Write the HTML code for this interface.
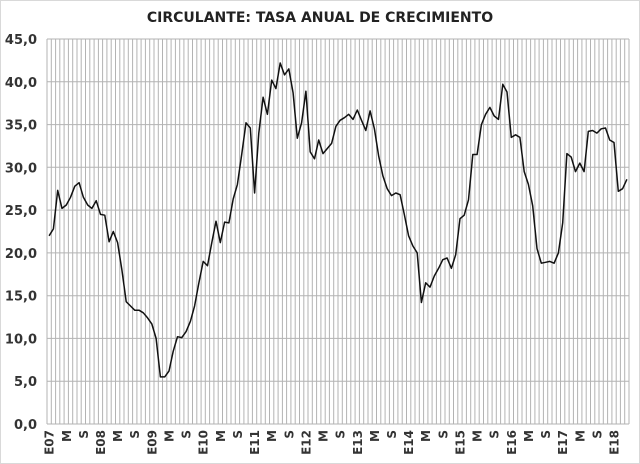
<!DOCTYPE html>
<html><head><meta charset="utf-8"><style>
body{margin:0;background:#fff;}
svg{display:block;font-family:"DejaVu Sans","Liberation Sans",sans-serif;font-weight:bold;}
</style></head><body>
<svg id="s" width="640" height="464" viewBox="0 0 640 464" xmlns="http://www.w3.org/2000/svg">
<rect x="0.5" y="0.5" width="639" height="463" fill="#fff" stroke="#d9d9d9"/>
<text x="320" y="22" text-anchor="middle" font-size="14" fill="#222">CIRCULANTE: TASA ANUAL DE CRECIMIENTO</text>
<g id="g"></g>
</svg>
<script>
var data=[22,22.8,27.3,25.2,25.6,26.5,27.8,28.2,26.5,25.6,25.2,26.1,
24.5,24.4,21.3,22.5,21.2,18,14.3,13.8,13.3,13.3,13,12.4,
11.7,10,5.5,5.5,6.2,8.5,10.2,10.1,10.8,12,13.8,16.5,
19,18.5,21.2,23.7,21.2,23.6,23.5,26.3,28,31.5,35.2,34.6,
27,34,38.2,36.2,40.2,39.2,42.2,40.8,41.5,38.7,33.4,35.2,
38.9,31.8,31,33.2,31.6,32.2,32.8,34.8,35.5,35.8,36.2,35.6,
36.7,35.5,34.3,36.6,34.5,31.3,29,27.5,26.7,27,26.8,24.5,
22,20.8,20,14.2,16.5,16,17.3,18.2,19.2,19.4,18.2,19.8,
24,24.4,26.2,31.5,31.5,35,36.2,37,36,35.6,39.7,38.8,
33.5,33.8,33.5,29.5,28,25.5,20.5,18.8,18.9,19,18.8,20,
23.5,31.6,31.2,29.5,30.5,29.5,34.2,34.3,34,34.5,34.6,33.2,
32.9,27.2,27.5,28.6];
var L=47,R=629,T=39,B=424,n=data.length,w=(R-L)/n;
var h='';
for(var i=0;i<=n;i++){var x=(L+i*w).toFixed(1);h+='<line x1="'+x+'" y1="'+T+'" x2="'+x+'" y2="'+B+'" stroke="#b3b3b3" stroke-width="1"/>';}
for(var k=0;k<=9;k++){var y=(B-(B-T)*k/9).toFixed(1);h+='<line x1="'+L+'" y1="'+y+'" x2="'+R+'" y2="'+y+'" stroke="#b3b3b3" stroke-width="1"/>';
h+='<text x="37" y="'+(+y+5)+'" text-anchor="end" font-size="13" fill="#333">'+(k*5).toFixed(1).replace('.',',')+'</text>';}
var p=data.map(function(v,i){return (L+(i+0.5)*w).toFixed(1)+','+(B-v*(B-T)/45).toFixed(1)}).join(' ');
h+='<polyline points="'+p+'" fill="none" stroke="#111" stroke-width="1.5" stroke-linejoin="round"/>';
for(var i=0;i<n;i+=4){var m=i%12,t=m==0?'E'+String(7+i/12).padStart(2,'0'):(m==4?'M':'S');var x=(L+(i+0.5)*w+4.5).toFixed(1);
h+='<text transform="translate('+x+',430) rotate(-90)" text-anchor="end" font-size="12" fill="#333">'+t+'</text>';}
document.getElementById('g').innerHTML=h;
</script>
</body></html>
